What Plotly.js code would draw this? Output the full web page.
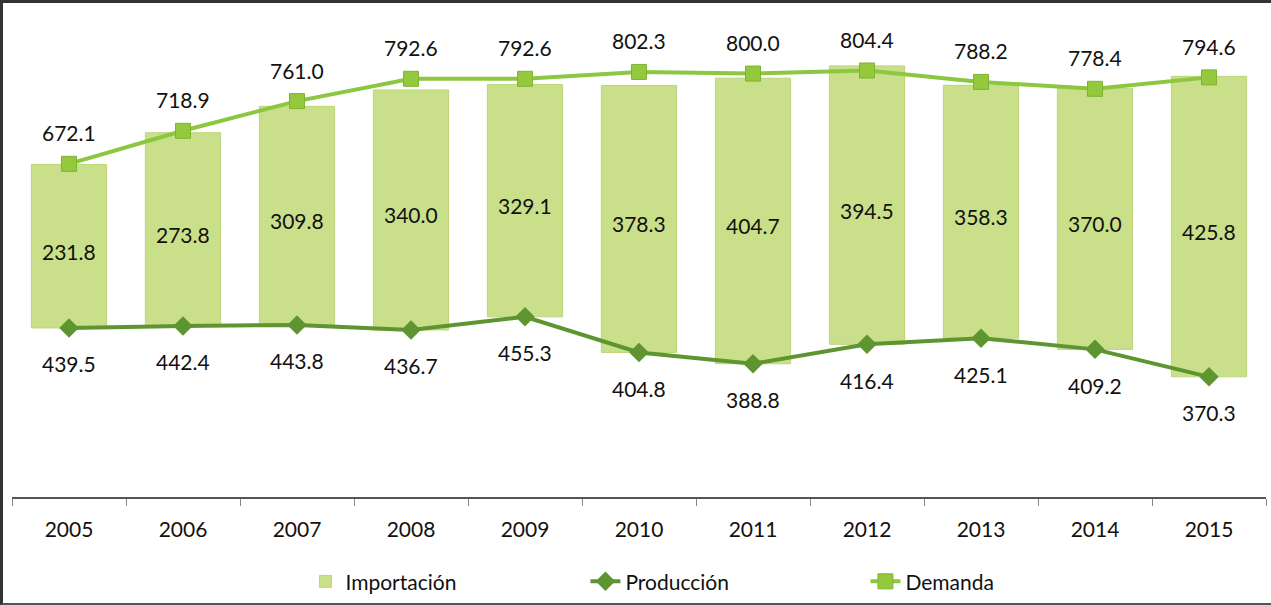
<!DOCTYPE html>
<html>
<head>
<meta charset="utf-8">
<script src="https://cdn.plot.ly/plotly-3.0.1.min.js"></script>
<style>
  html, body { margin: 0; padding: 0; background: #fff; }
  #wrap { position: relative; width: 1271px; height: 605px; }
  #chart { width: 1271px; height: 605px; }
  #frame { position: absolute; left: 0; top: 0; width: 1271px; height: 605px; box-sizing: border-box;
           border-top: 3px solid #333; border-left: 3px solid #333; border-bottom: 2px solid #555; pointer-events: none; }
</style>
</head>
<body>
<div id="wrap"><div id="chart"></div><div id="frame"></div></div>
<script>
const years = ['2005','2006','2007','2008','2009','2010','2011','2012','2013','2014','2015'];
const importacion = [231.8, 273.8, 309.8, 340.0, 329.1, 378.3, 404.7, 394.5, 358.3, 370.0, 425.8];
const produccion = [439.5, 442.4, 443.8, 436.7, 455.3, 404.8, 388.8, 416.4, 425.1, 409.2, 370.3];
const demanda = [672.1, 718.9, 761.0, 792.6, 792.6, 802.3, 800.0, 804.4, 788.2, 778.4, 794.6];

const labelFont = {family: 'Lato, "Open Sans", sans-serif', size: 21, color: '#111'};

const traces = [
  {
    type: 'bar', name: 'Importación', x: years, y: importacion, base: produccion,
    marker: {color: '#c9df8a', line: {color: '#bcd57a', width: 1}},
    hoverinfo: 'skip'
  },
  {
    type: 'scatter', mode: 'lines+markers', name: 'Producción', x: years, y: produccion,
    line: {color: '#5e9530', width: 4},
    marker: {symbol: 'diamond', size: 15, color: '#5e9530'}
  },
  {
    type: 'scatter', mode: 'lines+markers', name: 'Demanda', x: years, y: demanda,
    line: {color: '#8dc63f', width: 4},
    marker: {symbol: 'square', size: 15, color: '#94c83d', line: {color: '#7fb232', width: 1}}
  }
];

// category axis: annotations are placed by category index
const annotations = [];
years.forEach((yr, i) => {
  annotations.push({x: i, y: demanda[i], text: demanda[i].toFixed(1), showarrow: false, yshift: 31, font: labelFont});
  annotations.push({x: i, y: produccion[i], text: produccion[i].toFixed(1), showarrow: false, yshift: -36, font: labelFont});
  annotations.push({x: i, y: produccion[i] + importacion[i] / 2, text: importacion[i].toFixed(1), showarrow: false, yshift: -5, font: labelFont});
});

const layout = {
  width: 1271, height: 605,
  margin: {l: 12, r: 5, t: 3, b: 105},
  paper_bgcolor: '#fff', plot_bgcolor: '#fff',
  font: {family: 'Lato, "Open Sans", sans-serif', size: 21, color: '#111'},
  bargap: 0.34,
  showlegend: true,
  legend: {
    orientation: 'h', x: 0.234, xanchor: 'left', y: -0.13, yanchor: 'top',
    entrywidth: 235, font: {size: 21, color: '#111'}, traceorder: 'normal'
  },
  xaxis: {
    type: 'category', range: [-0.5, 10.5], showgrid: false, zeroline: false,
    showline: true, linecolor: '#555', linewidth: 2,
    ticks: 'outside', tickson: 'boundaries', ticklen: 7, tickcolor: '#888', tickwidth: 1,
    ticklabelstandoff: 13, tickangle: 0,
    tickfont: {size: 21, color: '#111'}
  },
  yaxis: {
    range: [200, 900], visible: false, showgrid: false, zeroline: false, fixedrange: true
  },
  annotations: annotations
};

Plotly.newPlot('chart', traces, layout, {displayModeBar: false, staticPlot: true});
</script>
</body>
</html>
